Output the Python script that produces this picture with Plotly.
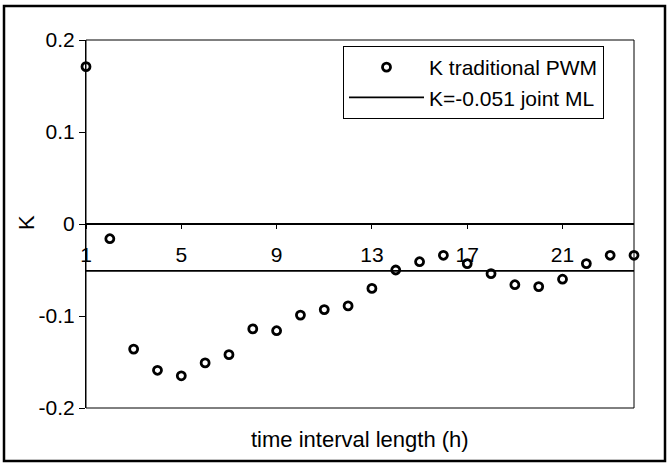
import plotly.graph_objects as go

# Data
intervals = list(range(1, 25))
k_pwm = [0.171, -0.016, -0.136, -0.159, -0.165, -0.151, -0.142, -0.114, -0.116,
         -0.099, -0.093, -0.089, -0.070, -0.050, -0.041, -0.034, -0.043, -0.054,
         -0.066, -0.068, -0.060, -0.043, -0.034, -0.034]
k_ml = -0.051
x_tick_vals = [1, 5, 9, 13, 17, 21]
x_tick_text = ["1", "5", "9", "13", "17", "21"]
y_tick_vals = [-0.2, -0.1, 0, 0.1, 0.2]
y_tick_text = ["-0.2", "-0.1", "0", "0.1", "0.2"]

FONT = "Liberation Sans, Arial, sans-serif"

fig = go.Figure()
fig.add_trace(go.Scatter(
    x=intervals, y=k_pwm, mode="markers", name="K traditional PWM",
    marker=dict(symbol="circle-open", size=8, color="black", line=dict(width=2.8)),
    cliponaxis=False,
))
fig.add_trace(go.Scatter(
    x=[intervals[0], intervals[-1]], y=[k_ml, k_ml], mode="lines",
    name="K=-0.051 joint ML",
    line=dict(color="black", width=1.8),
    cliponaxis=False,
))

W, H = 670, 467
left, right, top, bottom = 86, 634, 40, 408  # plot area in px
L, R, T, B = left, W - right, top, H - bottom
pw, ph = right - left, bottom - top

def px_x(px):
    return (px - left) / pw

def px_y(py):
    return (bottom - py) / ph

fig.update_layout(
    width=W, height=H,
    margin=dict(l=L, r=R, t=T, b=B, autoexpand=False),
    paper_bgcolor="white", plot_bgcolor="white",
    font=dict(family=FONT, color="black", size=21),
    showlegend=True,
    legend=dict(
        x=px_x(343), y=px_y(46), xanchor="left", yanchor="top",
        bgcolor="white", bordercolor="black", borderwidth=1,
        font=dict(size=21, family=FONT), itemwidth=75,
    ),
    xaxis=dict(
        range=[1, 24], tickvals=x_tick_vals, ticktext=x_tick_text,
        anchor="free", position=0.5,
        showline=True, linecolor="black", linewidth=1.5,
        ticks="outside", ticklen=4, tickcolor="black",
        ticklabelstandoff=8,
        showgrid=False, zeroline=False,
        tickfont=dict(size=21),
    ),
    yaxis=dict(
        range=[-0.2, 0.2], tickvals=y_tick_vals, ticktext=y_tick_text,
        showline=True, linecolor="black", linewidth=1,
        ticks="outside", ticklen=6, tickcolor="black",
        showgrid=False, zeroline=False,
        tickfont=dict(size=21),
    ),
    shapes=[
        dict(type="rect", xref="paper", yref="paper", x0=0, x1=1, y0=0, y1=1,
             line=dict(color="black", width=1), layer="below"),
        dict(type="rect", xref="paper", yref="paper",
             x0=px_x(4), x1=px_x(665), y0=px_y(461), y1=px_y(6),
             line=dict(color="black", width=2.5)),
    ],
    annotations=[
        dict(text="time interval length (h)", xref="paper", yref="paper",
             x=0.5, y=px_y(439), xanchor="center", yanchor="middle",
             showarrow=False, font=dict(size=22)),
        dict(text="K", xref="paper", yref="paper", textangle=-90,
             x=px_x(26), y=px_y(223), xanchor="center", yanchor="middle",
             showarrow=False, font=dict(size=22)),
    ],
)

fig.write_html(
    "out.html",
    config={"displayModeBar": False},
    post_script="document.body.style.margin='0';document.body.style.overflow='hidden';",
)
